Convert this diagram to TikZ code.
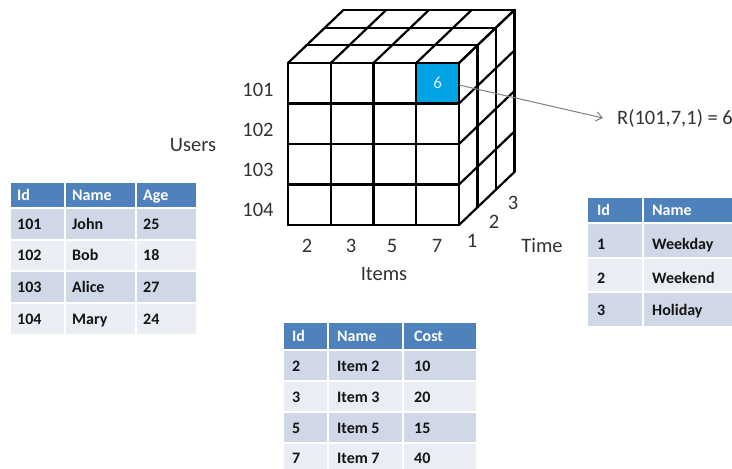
\documentclass[tikz,border=0pt]{standalone}
\usepackage{fontspec}
\setmainfont{Carlito}
\usetikzlibrary{arrows.meta}
\definecolor{hdr}{HTML}{4F81BD}
\definecolor{rowa}{HTML}{D0D8E8}
\definecolor{rowb}{HTML}{E9EDF4}
\definecolor{cellblue}{RGB}{0,164,228}
\definecolor{txt}{HTML}{141414}
\tikzset{
  cube/.style={line width=2.2pt, line cap=round, line join=round},
  lbl/.style={font=\fontsize{20.5}{24}\selectfont, text=black!80, inner sep=0pt, text height=14.2pt, text depth=1pt},
  tcell/.style={draw=white, line width=1.2pt, anchor=north west, inner sep=0pt},
  ttext/.style={anchor=west, inner sep=0pt, font=\fontsize{16}{18}\selectfont\bfseries, text=txt, text height=11.3pt, text depth=1pt},
  htext/.style={ttext, text=white},
}
\begin{document}
\begin{tikzpicture}[x=1pt,y=-1pt]
\useasboundingbox (0,0) rectangle (732,469);
\fill[white] (0,0) rectangle (732,469);
\begin{scope}
\clip (0,0) rectangle (732,469);
% ---------- cube ----------
\def\cx{288}\def\cy{63}\def\cw{42.75}\def\ch{40.5}\def\dx{18.5}\def\dy{-17.7}
\fill[cellblue] (\cx+3*\cw,\cy) rectangle (\cx+4*\cw,\cy+\ch);
\node[font=\fontsize{17}{20}\selectfont, text=white!85!cellblue, inner sep=0pt, text height=11.8pt, text depth=1pt] (six) at (\cx+3.5*\cw,\cy+0.5*\ch) {6};
% front face
\foreach \i in {0,...,4}{
  \draw[cube] (\cx+\i*\cw,\cy) -- (\cx+\i*\cw,\cy+4*\ch);
  \draw[cube] (\cx,\cy+\i*\ch) -- (\cx+4*\cw,\cy+\i*\ch);
}
% top and right faces
\foreach \k in {1,2,3}{
  \draw[cube] (\cx+\k*\dx,\cy+\k*\dy) -- (\cx+4*\cw+\k*\dx,\cy+\k*\dy);
  \draw[cube] (\cx+4*\cw+\k*\dx,\cy+\k*\dy) -- (\cx+4*\cw+\k*\dx,\cy+4*\ch+\k*\dy);
}
\foreach \i in {0,...,4}{
  \draw[cube] (\cx+\i*\cw,\cy) -- (\cx+\i*\cw+3*\dx,\cy+3*\dy);
  \draw[cube] (\cx+4*\cw,\cy+\i*\ch) -- (\cx+4*\cw+3*\dx,\cy+\i*\ch+3*\dy);
}
% labels
\node[lbl] (u101) at (258,90) {101};
\node[lbl] (u102) at (258,130) {102};
\node[lbl] (u103) at (258,170) {103};
\node[lbl] (u104) at (258,210) {104};
\node[lbl] (users) at (193,145) {Users};
\node[lbl] (i2) at (307,246) {2};
\node[lbl] (i3) at (351,246) {3};
\node[lbl] (i5) at (392,246) {5};
\node[lbl] (i7) at (437,246) {7};
\node[lbl] (items) at (384,274) {Items};
\node[lbl] (t1) at (472,241) {1};
\node[lbl] (t2) at (494,222) {2};
\node[lbl] (t3) at (513,203) {3};
\node[lbl] (time) at (542,246) {Time};
\coordinate (src) at (\cx+4*\cw,85);
\node[lbl, anchor=west] (res) at (617,118) {R(101,7,1) = 6};
\draw[gray, line width=1pt, -{Straight Barb[length=6pt,width=9pt]}] (src) -- (603,118);
% ---------- users table ----------
\foreach \xa/\xb in {10/65,65/136,136/197}{
  \path[fill=hdr, tcell] (\xa,182) rectangle (\xb,208);
}
\foreach \ya/\yb/\col in {208/240/rowa,240/271/rowb,271/303/rowa,303/335/rowb}{
  \foreach \xa/\xb in {10/65,65/136,136/197}{
    \path[fill=\col, tcell] (\xa,\ya) rectangle (\xb,\yb);
  }
}
\node[htext] (uh1) at (17,195) {Id};
\node[htext] (uh2) at (72,195) {Name};
\node[htext] (uh3) at (143,195) {Age};
\foreach \r/\y/\a/\b/\cc in {1/224/101/John/25,2/255.5/102/Bob/18,3/287/103/Alice/27,4/319/104/Mary/24}{
  \node[ttext] (ua\r) at (17,\y) {\a};
  \node[ttext] (ub\r) at (72,\y) {\b};
  \node[ttext] (uc\r) at (143,\y) {\cc};
}
% ---------- items table ----------
\foreach \xa/\xb in {283/328,328/403,403/477}{
  \path[fill=hdr, tcell] (\xa,322) rectangle (\xb,350);
}
\foreach \ya/\yb/\col in {350/381/rowa,381/412/rowb,412/443/rowa,443/475/rowb}{
  \foreach \xa/\xb in {283/328,328/403,403/477}{
    \path[fill=\col, tcell] (\xa,\ya) rectangle (\xb,\yb);
  }
}
\node[htext] (ih1) at (292,336) {Id};
\node[htext] (ih2) at (337,336) {Name};
\node[htext] (ih3) at (414,336) {Cost};
\foreach \r/\y/\a/\b/\cc in {1/366/2/Item 2/10,2/397/3/Item 3/20,3/428/5/Item 5/15,4/458/7/Item 7/40}{
  \node[ttext] (ia\r) at (292,\y) {\a};
  \node[ttext] (ib\r) at (337,\y) {\b};
  \node[ttext] (ic\r) at (414,\y) {\cc};
}
% ---------- time table ----------
\foreach \xa/\xb in {587/643,643/745}{
  \path[fill=hdr, tcell] (\xa,197) rectangle (\xb,223);
}
\foreach \ya/\yb/\col in {223/258/rowa,258/292/rowb,292/327/rowa}{
  \foreach \xa/\xb in {587/643,643/745}{
    \path[fill=\col, tcell] (\xa,\ya) rectangle (\xb,\yb);
  }
}
\node[htext] (th1) at (597,210) {Id};
\node[htext] (th2) at (652,210) {Name};
\foreach \r/\y/\a/\b in {1/244/1/Weekday,2/278/2/Weekend,3/310/3/Holiday}{
  \node[ttext] (ta\r) at (597,\y) {\a};
  \node[ttext] (tb\r) at (652,\y) {\b};
}
\end{scope}
\end{tikzpicture}
\end{document}
